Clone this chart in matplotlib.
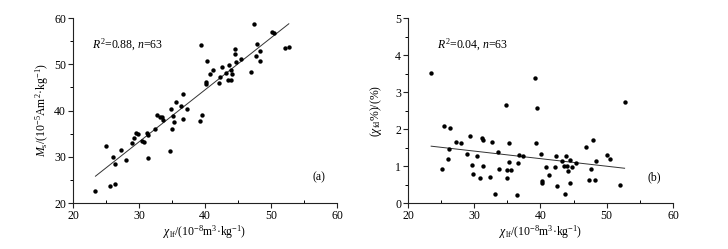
import numpy as np
import matplotlib
matplotlib.use("Agg")
import matplotlib.pyplot as plt
from matplotlib.ticker import MultipleLocator

# Panel (a): chi_lf vs Ms
chi_lf_a = [23.4, 25.05, 25.6, 26.1, 26.3, 26.4, 27.3, 28.0, 28.9, 29.3,
            29.6, 29.8, 30.5, 30.8, 31.2, 31.3, 31.4, 32.4, 32.8, 33.2,
            33.5, 33.6, 34.75, 34.85, 35.0, 35.2, 35.3, 35.6, 36.4, 36.6,
            36.7, 37.3, 39.2, 39.4, 39.5, 40.1, 40.2, 40.25, 40.8, 41.2,
            42.1, 42.2, 42.5, 43.2, 43.5, 43.6, 43.9, 44.0, 44.1, 44.5,
            44.6, 44.7, 45.5, 46.9, 47.4, 47.7, 47.9, 48.3, 48.4, 50.2,
            50.45, 52.1, 52.7]
ms = [22.7, 32.4, 23.7, 29.9, 24.1, 28.4, 31.4, 29.4, 33.0, 34.1,
      35.1, 35.0, 33.4, 33.1, 35.1, 29.7, 34.6, 35.9, 38.95, 38.6,
      38.6, 37.9, 31.3, 40.4, 35.9, 38.9, 37.6, 41.9, 40.9, 43.6,
      38.2, 40.3, 37.7, 54.1, 38.95, 46.2, 45.8, 50.8, 48.0, 48.8,
      45.9, 47.3, 49.5, 48.2, 46.5, 49.9, 48.8, 46.5, 48.0, 52.3,
      53.2, 50.4, 51.1, 48.4, 58.6, 51.7, 54.45, 52.9, 50.8, 57.0,
      56.8, 53.5, 53.7]

# Panel (b): chi_lf vs chi_fd%
chi_lf_b = [23.5, 25.1, 25.5, 26.0, 26.2, 26.4, 27.3, 28.0, 28.9, 29.4,
            29.6, 29.8, 30.4, 30.8, 31.2, 31.3, 31.4, 32.4, 32.7, 33.2,
            33.65, 33.7, 34.8, 34.96, 35.0, 35.2, 35.3, 35.6, 36.4, 36.6,
            36.8, 37.3, 39.2, 39.4, 39.5, 40.1, 40.2, 40.3, 40.9, 41.3,
            42.2, 42.3, 42.5, 43.2, 43.5, 43.7, 43.9, 44.0, 44.1, 44.5,
            44.5, 44.8, 45.4, 46.9, 47.4, 47.6, 47.9, 48.4, 48.3, 50.1,
            50.5, 52.0, 52.7]
chi_fd = [3.51, 0.91, 2.07, 1.18, 1.45, 2.02, 1.65, 1.61, 1.32, 1.82,
          1.03, 0.78, 1.27, 0.67, 1.76, 1.71, 0.99, 0.71, 1.66, 0.23,
          1.39, 0.93, 2.66, 0.88, 0.67, 1.62, 1.10, 0.88, 0.22, 1.08,
          1.29, 1.26, 3.39, 1.62, 2.57, 1.32, 0.54, 0.59, 0.97, 0.77,
          0.96, 1.28, 0.45, 1.13, 1.00, 0.25, 1.27, 1.00, 0.86, 1.17,
          0.54, 0.96, 1.07, 1.52, 0.62, 0.91, 1.71, 1.14, 0.62, 1.31,
          1.19, 0.48, 2.73]

x_ticks = [20, 30, 40, 50, 60]
ya_ticks = [20, 30, 40, 50, 60]
yb_ticks = [0, 1, 2, 3, 4, 5]

plt.rcParams['font.family'] = ['Liberation Serif', 'DejaVu Serif']
plt.rcParams['mathtext.fontset'] = 'custom'
plt.rcParams['mathtext.rm'] = 'Liberation Serif'
plt.rcParams['mathtext.it'] = 'Liberation Serif:italic'

fig = plt.figure(figsize=(7.28, 2.49), dpi=100)
axa = fig.add_axes([0.1003, 0.1847, 0.3626, 0.743])
axb = fig.add_axes([0.5604, 0.1847, 0.364, 0.743])

fs = 8.5
for ax in (axa, axb):
    for s in ('top', 'right'):
        ax.spines[s].set_visible(False)
    for s in ('left', 'bottom'):
        ax.spines[s].set_linewidth(0.8)
        ax.spines[s].set_color('#222222')
    ax.set_xlim(20, 60)
    ax.set_xticks(x_ticks)
    ax.xaxis.set_minor_locator(MultipleLocator(5))
    ax.tick_params(axis='both', which='major', direction='out', length=3.5,
                   width=0.8, labelsize=fs, color='#222222', pad=1.5)
    ax.tick_params(axis='x', which='minor', direction='in', length=2, width=0.7)
    ax.tick_params(axis='y', which='minor', direction='out', length=2, width=0.7)
    ax.set_xlabel(r'$\it{\chi}_{\rm lf}$/(10$^{-8}$m$^{3}$·kg$^{-1}$)', fontsize=fs, labelpad=1)

# (a)
axa.scatter(chi_lf_a, ms, s=10, color='black', linewidths=0, zorder=3)
xa = np.array(chi_lf_a)
pa = np.polyfit(xa, ms, 1)
xx = np.array([xa.min(), xa.max()])
axa.plot(xx, np.polyval(pa, xx), color='#333333', lw=0.7)
axa.set_ylim(20, 60)
axa.set_yticks(ya_ticks)
axa.yaxis.set_minor_locator(MultipleLocator(5))
axa.set_ylabel(r'$\it{M}_{\rm s}$/(10$^{-5}$Am$^{2}$·kg$^{-1}$)', fontsize=fs, labelpad=2)
axa.text(0.072, 0.855, r'$\it{R}^{2}$=0.88, $\it{n}$=63', transform=axa.transAxes,
         fontsize=fs, va='center', ha='left')
axa.text(0.93, 0.14, '(a)', transform=axa.transAxes, fontsize=fs, va='center', ha='center')

# (b)
axb.scatter(chi_lf_b, chi_fd, s=10, color='black', linewidths=0, zorder=3)
xb = np.array(chi_lf_b)
pb = np.polyfit(xb, chi_fd, 1)
xx = np.array([xb.min(), xb.max()])
axb.plot(xx, np.polyval(pb, xx), color='#333333', lw=0.7)
axb.set_ylim(0, 5)
axb.set_yticks(yb_ticks)
axb.yaxis.set_minor_locator(MultipleLocator(0.5))
axb.set_ylabel(r'($\it{\chi}_{\rm fd}$%)/(%)', fontsize=fs, labelpad=8)
axb.text(0.11, 0.855, r'$\it{R}^{2}$=0.04, $\it{n}$=63', transform=axb.transAxes,
         fontsize=fs, va='center', ha='left')
axb.text(0.93, 0.14, '(b)', transform=axb.transAxes, fontsize=fs, va='center', ha='center')

fig.savefig('out.png', dpi=100)
